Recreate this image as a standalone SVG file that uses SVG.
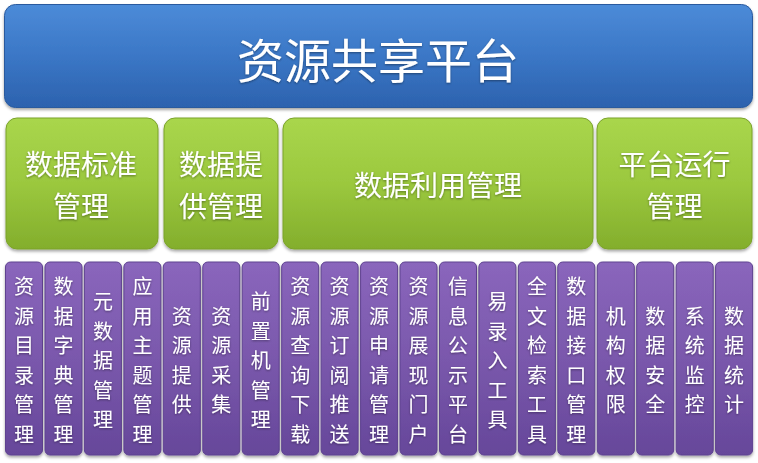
<svg xmlns="http://www.w3.org/2000/svg" width="758" height="463" viewBox="0 0 758 463">
<defs>
<linearGradient id="gBlue" x1="0" y1="0" x2="0" y2="1">
<stop offset="0" stop-color="#4C8BD8"/>
<stop offset="0.5" stop-color="#3B77C6"/>
<stop offset="1" stop-color="#2C62AE"/>
</linearGradient>
<linearGradient id="gGreen" x1="0" y1="0" x2="0" y2="1">
<stop offset="0" stop-color="#A9D64C"/>
<stop offset="0.5" stop-color="#9BC83E"/>
<stop offset="1" stop-color="#83AE2C"/>
</linearGradient>
<linearGradient id="gPurple" x1="0" y1="0" x2="0" y2="1">
<stop offset="0" stop-color="#8A66BC"/>
<stop offset="0.5" stop-color="#7A58AC"/>
<stop offset="1" stop-color="#66479A"/>
</linearGradient>
<filter id="sh" x="-10%" y="-10%" width="120%" height="130%">
<feDropShadow dx="0" dy="2" stdDeviation="1.5" flood-color="#000" flood-opacity="0.35"/>
</filter>
<filter id="tsh" x="-10%" y="-10%" width="120%" height="120%">
<feDropShadow dx="0" dy="1" stdDeviation="0.8" flood-color="#000" flood-opacity="0.4"/>
</filter>
</defs>
<style>
.t{font-family:"Noto Sans CJK SC","Noto Sans",sans-serif;fill:#fff;text-anchor:middle;dominant-baseline:central;filter:url(#tsh)}
.blue{fill:url(#gBlue);stroke:#2A5A9E;stroke-width:1;filter:url(#sh)}
.green{fill:url(#gGreen);stroke:#7BA32A;stroke-width:1;filter:url(#sh)}
.purple{fill:url(#gPurple);stroke:#5E4290;stroke-width:1;filter:url(#sh)}
.big{font-size:47px}
.mid{font-size:28px}
.col{font-size:20px}
</style>
<rect width="758" height="463" fill="#fff"/>

<g id="top">
<rect class="blue" x="4.5" y="4.5" width="748" height="103" rx="11"/>
<text class="t big" x="378" y="57">资源共享平台</text>
</g>

<g id="g1">
<rect class="green" x="6" y="118" width="152" height="131" rx="11"/>
<text class="t mid" x="81" y="163">数据标准</text>
<text class="t mid" x="81" y="205">管理</text>
</g>
<g id="g2">
<rect class="green" x="164" y="118" width="114" height="131" rx="11"/>
<text class="t mid" x="221" y="163">数据提</text>
<text class="t mid" x="221" y="205">供管理</text>
</g>
<g id="g3">
<rect class="green" x="283" y="118" width="310" height="131" rx="11"/>
<text class="t mid" x="438" y="184">数据利用管理</text>
</g>
<g id="g4">
<rect class="green" x="597" y="118" width="155" height="131" rx="11"/>
<text class="t mid" x="674.5" y="163">平台运行</text>
<text class="t mid" x="674.5" y="205">管理</text>
</g>

<g id="connectors"></g>

<g id="c1"><rect class="purple" x="5.5" y="262" width="37" height="193" rx="5"/>
<text class="t col"><tspan x="24" y="285.3">资</tspan><tspan x="24" y="314.8">源</tspan><tspan x="24" y="344.3">目</tspan><tspan x="24" y="373.8">录</tspan><tspan x="24" y="403.3">管</tspan><tspan x="24" y="432.8">理</tspan></text></g>
<g id="c2"><rect class="purple" x="45" y="262" width="37" height="193" rx="5"/>
<text class="t col"><tspan x="63.5" y="285.3">数</tspan><tspan x="63.5" y="314.8">据</tspan><tspan x="63.5" y="344.3">字</tspan><tspan x="63.5" y="373.8">典</tspan><tspan x="63.5" y="403.3">管</tspan><tspan x="63.5" y="432.8">理</tspan></text></g>
<g id="c3"><rect class="purple" x="84.4" y="262" width="37" height="193" rx="5"/>
<text class="t col"><tspan x="102.9" y="300">元</tspan><tspan x="102.9" y="329.5">数</tspan><tspan x="102.9" y="359">据</tspan><tspan x="102.9" y="388.5">管</tspan><tspan x="102.9" y="418">理</tspan></text></g>
<g id="c4"><rect class="purple" x="123.9" y="262" width="37" height="193" rx="5"/>
<text class="t col"><tspan x="142.4" y="285.3">应</tspan><tspan x="142.4" y="314.8">用</tspan><tspan x="142.4" y="344.3">主</tspan><tspan x="142.4" y="373.8">题</tspan><tspan x="142.4" y="403.3">管</tspan><tspan x="142.4" y="432.8">理</tspan></text></g>
<g id="c5"><rect class="purple" x="163.3" y="262" width="37" height="193" rx="5"/>
<text class="t col"><tspan x="181.8" y="314.8">资</tspan><tspan x="181.8" y="344.3">源</tspan><tspan x="181.8" y="373.8">提</tspan><tspan x="181.8" y="403.3">供</tspan></text></g>
<g id="c6"><rect class="purple" x="202.8" y="262" width="37" height="193" rx="5"/>
<text class="t col"><tspan x="221.3" y="314.8">资</tspan><tspan x="221.3" y="344.3">源</tspan><tspan x="221.3" y="373.8">采</tspan><tspan x="221.3" y="403.3">集</tspan></text></g>
<g id="c7"><rect class="purple" x="242.2" y="262" width="37" height="193" rx="5"/>
<text class="t col"><tspan x="260.7" y="300">前</tspan><tspan x="260.7" y="329.5">置</tspan><tspan x="260.7" y="359">机</tspan><tspan x="260.7" y="388.5">管</tspan><tspan x="260.7" y="418">理</tspan></text></g>
<g id="c8"><rect class="purple" x="281.7" y="262" width="37" height="193" rx="5"/>
<text class="t col"><tspan x="300.2" y="285.3">资</tspan><tspan x="300.2" y="314.8">源</tspan><tspan x="300.2" y="344.3">查</tspan><tspan x="300.2" y="373.8">询</tspan><tspan x="300.2" y="403.3">下</tspan><tspan x="300.2" y="432.8">载</tspan></text></g>
<g id="c9"><rect class="purple" x="321.1" y="262" width="37" height="193" rx="5"/>
<text class="t col"><tspan x="339.6" y="285.3">资</tspan><tspan x="339.6" y="314.8">源</tspan><tspan x="339.6" y="344.3">订</tspan><tspan x="339.6" y="373.8">阅</tspan><tspan x="339.6" y="403.3">推</tspan><tspan x="339.6" y="432.8">送</tspan></text></g>
<g id="c10"><rect class="purple" x="360.6" y="262" width="37" height="193" rx="5"/>
<text class="t col"><tspan x="379.1" y="285.3">资</tspan><tspan x="379.1" y="314.8">源</tspan><tspan x="379.1" y="344.3">申</tspan><tspan x="379.1" y="373.8">请</tspan><tspan x="379.1" y="403.3">管</tspan><tspan x="379.1" y="432.8">理</tspan></text></g>
<g id="c11"><rect class="purple" x="400" y="262" width="37" height="193" rx="5"/>
<text class="t col"><tspan x="418.5" y="285.3">资</tspan><tspan x="418.5" y="314.8">源</tspan><tspan x="418.5" y="344.3">展</tspan><tspan x="418.5" y="373.8">现</tspan><tspan x="418.5" y="403.3">门</tspan><tspan x="418.5" y="432.8">户</tspan></text></g>
<g id="c12"><rect class="purple" x="439.5" y="262" width="37" height="193" rx="5"/>
<text class="t col"><tspan x="458" y="285.3">信</tspan><tspan x="458" y="314.8">息</tspan><tspan x="458" y="344.3">公</tspan><tspan x="458" y="373.8">示</tspan><tspan x="458" y="403.3">平</tspan><tspan x="458" y="432.8">台</tspan></text></g>
<g id="c13"><rect class="purple" x="478.9" y="262" width="37" height="193" rx="5"/>
<text class="t col"><tspan x="497.4" y="300">易</tspan><tspan x="497.4" y="329.5">录</tspan><tspan x="497.4" y="359">入</tspan><tspan x="497.4" y="388.5">工</tspan><tspan x="497.4" y="418">具</tspan></text></g>
<g id="c14"><rect class="purple" x="518.4" y="262" width="37" height="193" rx="5"/>
<text class="t col"><tspan x="536.9" y="285.3">全</tspan><tspan x="536.9" y="314.8">文</tspan><tspan x="536.9" y="344.3">检</tspan><tspan x="536.9" y="373.8">索</tspan><tspan x="536.9" y="403.3">工</tspan><tspan x="536.9" y="432.8">具</tspan></text></g>
<g id="c15"><rect class="purple" x="557.8" y="262" width="37" height="193" rx="5"/>
<text class="t col"><tspan x="576.3" y="285.3">数</tspan><tspan x="576.3" y="314.8">据</tspan><tspan x="576.3" y="344.3">接</tspan><tspan x="576.3" y="373.8">口</tspan><tspan x="576.3" y="403.3">管</tspan><tspan x="576.3" y="432.8">理</tspan></text></g>
<g id="c16"><rect class="purple" x="597.3" y="262" width="37" height="193" rx="5"/>
<text class="t col"><tspan x="615.8" y="314.8">机</tspan><tspan x="615.8" y="344.3">构</tspan><tspan x="615.8" y="373.8">权</tspan><tspan x="615.8" y="403.3">限</tspan></text></g>
<g id="c17"><rect class="purple" x="636.7" y="262" width="37" height="193" rx="5"/>
<text class="t col"><tspan x="655.2" y="314.8">数</tspan><tspan x="655.2" y="344.3">据</tspan><tspan x="655.2" y="373.8">安</tspan><tspan x="655.2" y="403.3">全</tspan></text></g>
<g id="c18"><rect class="purple" x="676.2" y="262" width="37" height="193" rx="5"/>
<text class="t col"><tspan x="694.7" y="314.8">系</tspan><tspan x="694.7" y="344.3">统</tspan><tspan x="694.7" y="373.8">监</tspan><tspan x="694.7" y="403.3">控</tspan></text></g>
<g id="c19"><rect class="purple" x="715.6" y="262" width="37" height="193" rx="5"/>
<text class="t col"><tspan x="734.1" y="314.8">数</tspan><tspan x="734.1" y="344.3">据</tspan><tspan x="734.1" y="373.8">统</tspan><tspan x="734.1" y="403.3">计</tspan></text></g>
</svg>
